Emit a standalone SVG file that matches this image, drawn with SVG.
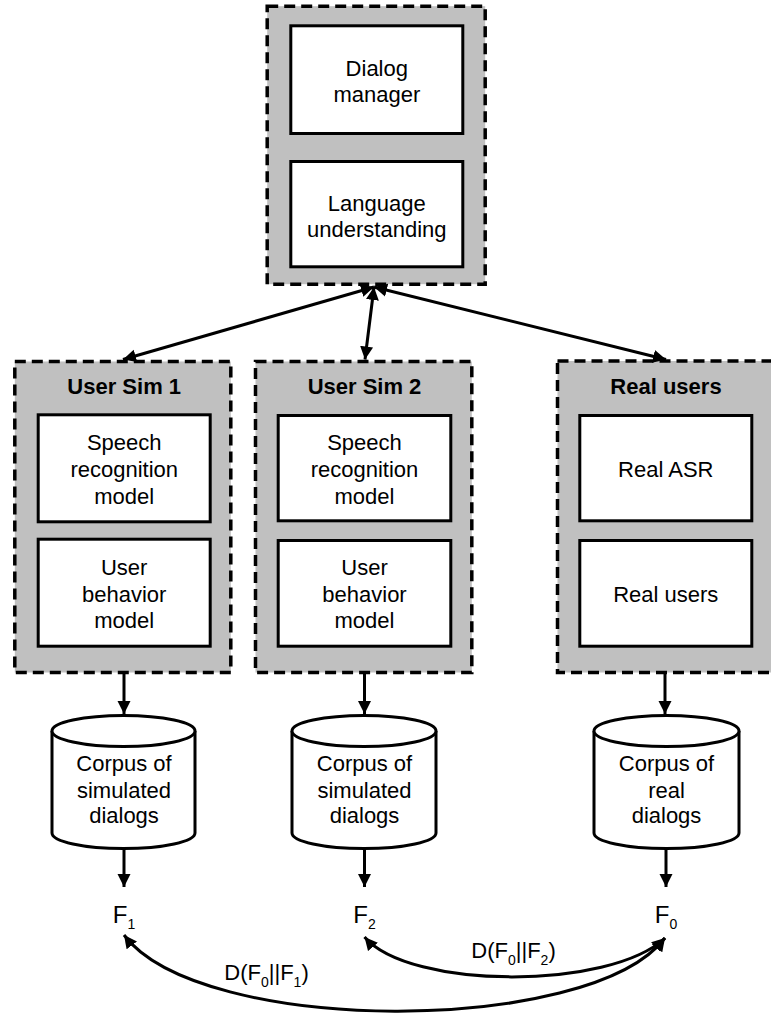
<svg xmlns="http://www.w3.org/2000/svg" width="771" height="1014" viewBox="0 0 771 1014">
<defs>
<marker id="ah" markerUnits="userSpaceOnUse" markerWidth="14" markerHeight="14" refX="13" refY="6.5" orient="auto-start-reverse" viewBox="0 0 14 13">
<path d="M0,0 L13,6.5 L0,13 z" fill="#000"/>
</marker>
<style>
.outer{fill:#c0c0c0;stroke:#000;stroke-width:3.5;stroke-dasharray:11 6}
.inner{fill:#fff;stroke:#000;stroke-width:3}
.cyl{fill:#fff;stroke:#000;stroke-width:3}
.t{font-family:"Liberation Sans",Arial,sans-serif;font-size:22px;fill:#000;text-anchor:middle}
.b{font-weight:bold}
.f{font-size:24px}
.s{font-size:14px}
.ln{fill:none;stroke:#000;stroke-width:3}
</style>
</defs>
<rect width="771" height="1014" fill="#fff"/>

<g id="dialog-system">
<rect class="outer" x="267.2" y="6.2" width="218" height="278"/>
<rect class="inner" x="290.8" y="25.8" width="172" height="107.7"/>
<rect class="inner" x="290.8" y="161.5" width="172" height="105.3"/>
<text class="t" x="376.8" y="76">Dialog</text>
<text class="t" x="376.8" y="101.7">manager</text>
<text class="t" x="376.8" y="210.7">Language</text>
<text class="t" x="376.8" y="236.7">understanding</text>
</g>

<g id="user-sim-1">
<rect class="outer" x="14.8" y="361.5" width="216" height="311"/>
<text class="t b" x="124.2" y="394">User Sim 1</text>
<rect class="inner" x="38.2" y="414.8" width="172" height="107"/>
<rect class="inner" x="38.2" y="539.2" width="172" height="107"/>
<text class="t" x="124.2" y="450">Speech</text>
<text class="t" x="124.2" y="476.7">recognition</text>
<text class="t" x="124.2" y="503.5">model</text>
<text class="t" x="124.2" y="575">User</text>
<text class="t" x="124.2" y="601.7">behavior</text>
<text class="t" x="124.2" y="628.3">model</text>
</g>

<g id="user-sim-2">
<rect class="outer" x="255.5" y="361.5" width="216.3" height="311"/>
<text class="t b" x="364.5" y="394">User Sim 2</text>
<rect class="inner" x="278.2" y="415.5" width="172.6" height="105.3"/>
<rect class="inner" x="278.2" y="540.5" width="172.6" height="105.7"/>
<text class="t" x="364.5" y="450">Speech</text>
<text class="t" x="364.5" y="476.7">recognition</text>
<text class="t" x="364.5" y="503.5">model</text>
<text class="t" x="364.5" y="575">User</text>
<text class="t" x="364.5" y="601.7">behavior</text>
<text class="t" x="364.5" y="628.3">model</text>
</g>

<g id="real-users">
<rect class="outer" x="557.5" y="361" width="222" height="311.5"/>
<text class="t b" x="666" y="394">Real users</text>
<rect class="inner" x="579.8" y="415.5" width="172" height="105.3"/>
<rect class="inner" x="579.8" y="540.5" width="172" height="105.7"/>
<text class="t" x="665.8" y="476.7">Real ASR</text>
<text class="t" x="665.8" y="601.7">Real users</text>
</g>

<g id="corpus-sim-1">
<path class="cyl" d="M52,731 L52,833 A71.5,15.5 0 0 0 195,833 L195,731"/>
<ellipse class="cyl" cx="123.5" cy="731" rx="71.5" ry="15.5"/>
<text class="t" x="124" y="771">Corpus of</text>
<text class="t" x="124" y="797.7">simulated</text>
<text class="t" x="124" y="823.3">dialogs</text>
</g>

<g id="corpus-sim-2">
<path class="cyl" d="M292,731 L292,833 A72,15.5 0 0 0 436,833 L436,731"/>
<ellipse class="cyl" cx="364" cy="731" rx="72" ry="15.5"/>
<text class="t" x="364.5" y="771">Corpus of</text>
<text class="t" x="364.5" y="797.7">simulated</text>
<text class="t" x="364.5" y="823.3">dialogs</text>
</g>

<g id="corpus-real">
<path class="cyl" d="M594,731 L594,833 A72.5,15.5 0 0 0 739,833 L739,731"/>
<ellipse class="cyl" cx="666.5" cy="731" rx="72.5" ry="15.5"/>
<text class="t" x="666.5" y="771">Corpus of</text>
<text class="t" x="666.5" y="797.7">real</text>
<text class="t" x="666.5" y="823.3">dialogs</text>
</g>

<g id="f1"><text class="t f" x="124" y="922.7">F<tspan class="s" dy="6.5">1</tspan></text></g>
<g id="f2"><text class="t f" x="364.5" y="922.7">F<tspan class="s" dy="6.5">2</tspan></text></g>
<g id="f0"><text class="t f" x="666" y="922.7">F<tspan class="s" dy="6.5">0</tspan></text></g>

<g id="connectors">
<line class="ln" x1="374" y1="287" x2="123" y2="359.5" marker-start="url(#ah)" marker-end="url(#ah)"/>
<line class="ln" x1="374" y1="287" x2="365" y2="359.5" marker-start="url(#ah)" marker-end="url(#ah)"/>
<line class="ln" x1="374" y1="287" x2="666" y2="359.5" marker-start="url(#ah)" marker-end="url(#ah)"/>
<line class="ln" x1="124" y1="674" x2="124" y2="714" marker-end="url(#ah)"/>
<line class="ln" x1="364.5" y1="674" x2="364.5" y2="714" marker-end="url(#ah)"/>
<line class="ln" x1="665" y1="674" x2="665" y2="714" marker-end="url(#ah)"/>
<line class="ln" x1="124" y1="850" x2="124" y2="887" marker-end="url(#ah)"/>
<line class="ln" x1="364.5" y1="850" x2="364.5" y2="887" marker-end="url(#ah)"/>
<line class="ln" x1="666" y1="850" x2="666" y2="887" marker-end="url(#ah)"/>
<path class="ln" d="M124,935 C200,1036 590,1036 665,938" marker-start="url(#ah)" marker-end="url(#ah)"/>
<path class="ln" d="M364.5,937 C410,990 610,990 665,938" marker-start="url(#ah)" marker-end="url(#ah)"/>
<text class="t" x="513.5" y="958">D(F<tspan class="s" dy="7">0</tspan><tspan dy="-7">||F</tspan><tspan class="s" dy="7">2</tspan><tspan dy="-7">)</tspan></text>
<text class="t" x="266.5" y="980">D(F<tspan class="s" dy="7">0</tspan><tspan dy="-7">||F</tspan><tspan class="s" dy="7">1</tspan><tspan dy="-7">)</tspan></text>
</g>
</svg>
